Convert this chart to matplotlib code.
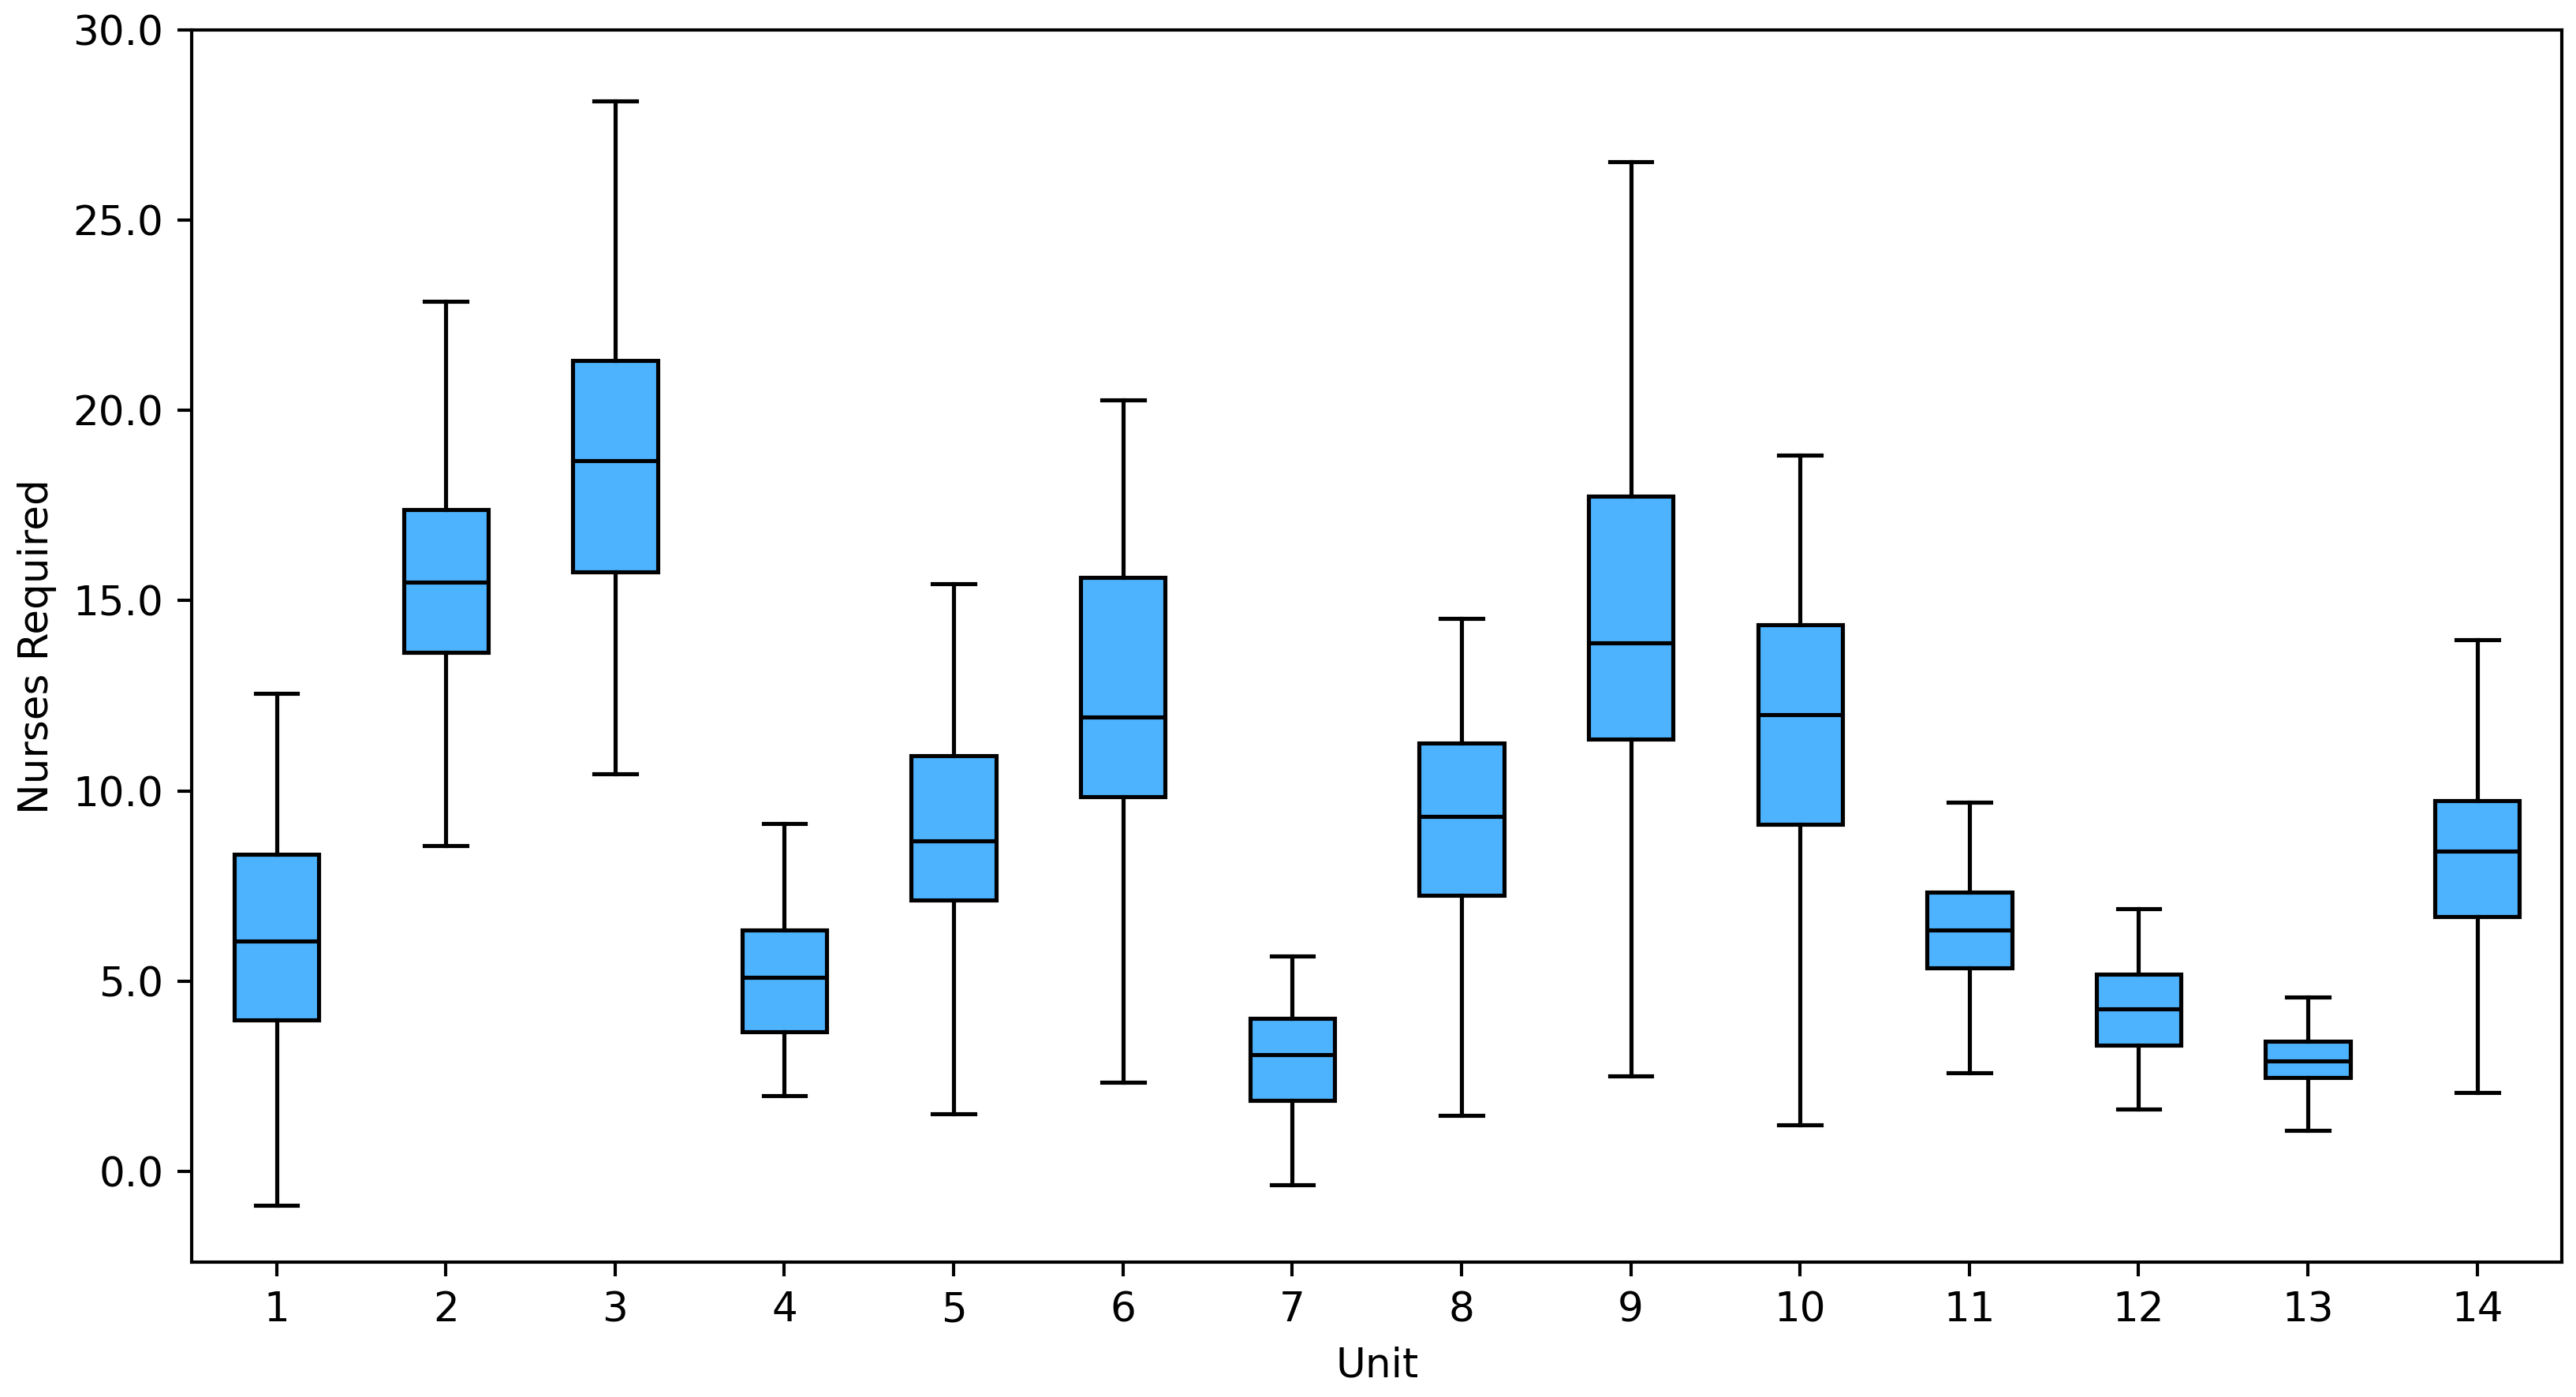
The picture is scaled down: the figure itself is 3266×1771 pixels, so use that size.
import numpy as np
import matplotlib
matplotlib.use("Agg")
import matplotlib.pyplot as plt

# box statistics per unit
units = [1, 2, 3, 4, 5, 6, 7, 8, 9, 10, 11, 12, 13, 14]
whislo = [-0.90, 8.55, 10.44, 1.99, 1.51, 2.33, -0.35, 1.47, 2.50, 1.21, 2.59, 1.64, 1.08, 2.07]
q1 = [3.97, 13.64, 15.75, 3.67, 7.12, 9.84, 1.86, 7.25, 11.35, 9.11, 5.35, 3.32, 2.46, 6.69]
med = [6.04, 15.49, 18.69, 5.09, 8.68, 11.95, 3.06, 9.32, 13.90, 12.00, 6.34, 4.27, 2.89, 8.42]
q3 = [8.33, 17.39, 21.32, 6.34, 10.92, 15.62, 4.01, 11.26, 17.74, 14.37, 7.34, 5.18, 3.41, 9.75]
whishi = [12.56, 22.88, 28.14, 9.15, 15.45, 20.28, 5.65, 14.54, 26.54, 18.82, 9.71, 6.91, 4.57, 13.98]

stats = []
for i in range(len(units)):
    stats.append({'label': str(units[i]), 'whislo': whislo[i], 'q1': q1[i], 'med': med[i],
                  'q3': q3[i], 'whishi': whishi[i], 'fliers': []})

dpi = 372
fig = plt.figure(figsize=(3266 / dpi, 1771 / dpi), dpi=dpi)
ax = fig.add_axes((0.0745, 0.0966, 0.92, 0.8818))

lw = 1.0
ax.bxp(stats, positions=units, widths=0.5, patch_artist=True, showfliers=False,
       boxprops=dict(facecolor='#4db3ff', edgecolor='black', linewidth=lw),
       medianprops=dict(color='black', linewidth=lw),
       whiskerprops=dict(color='black', linewidth=lw),
       capprops=dict(color='black', linewidth=lw))

ax.set_xlim(0.5, 14.5)
ax.set_ylim(-2.39, 30)
ax.set_yticks([0, 5, 10, 15, 20, 25, 30])
ax.set_yticklabels(['%.1f' % v for v in [0, 5, 10, 15, 20, 25, 30]])
ax.set_xlabel('Unit')
ax.set_ylabel('Nurses Required')

fig.savefig('out.png', dpi=dpi)
